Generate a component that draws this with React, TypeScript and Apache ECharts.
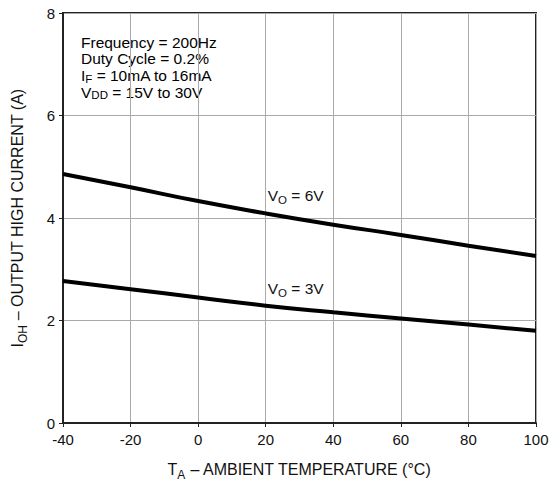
import React, { useEffect, useRef } from "react";
import * as echarts from "echarts";

const temps = [-40, -20, 0, 20, 40, 60, 80, 100];
const ioh6V = [4.86, 4.6, 4.33, 4.09, 3.87, 3.67, 3.46, 3.26];
const ioh3V = [2.77, 2.61, 2.45, 2.29, 2.16, 2.04, 1.92, 1.8];
const xTicks = [-40, -20, 0, 20, 40, 60, 80, 100];
const yTicks = [0, 2, 4, 6, 8];

const FONT = "Liberation Sans, Arial, sans-serif";

const rich = {
  m: { fontSize: 16, fontFamily: FONT, color: "#111", lineHeight: 20 },
  s: { fontSize: 12, fontFamily: FONT, color: "#111", lineHeight: 20, verticalAlign: "bottom", padding: [0, 0, -2, 0] },
};
const richSmall = {
  m: { fontSize: 15.5, fontFamily: FONT, color: "#111", lineHeight: 17 },
  s: { fontSize: 11.5, fontFamily: FONT, color: "#111", lineHeight: 17, verticalAlign: "bottom", padding: [0, 0, -2, 0] },
};
// Parameter block: slightly tighter subscripts so the lines don't collide
const richNote = {
  m: { fontSize: 15.5, fontFamily: FONT, color: "#111", lineHeight: 16.7 },
  s: { fontSize: 11.5, fontFamily: FONT, color: "#111", lineHeight: 14, verticalAlign: "bottom", padding: [0, 0, -1, 0] },
};

export default function App() {
  const ref = useRef<HTMLDivElement>(null);
  useEffect(() => {
    const chart = echarts.init(ref.current!, null, { renderer: "svg" });
    const series = (data: number[], label: string, at: number) => ({
      type: "line",
      smooth: true,
      symbol: "none",
      data: temps.map((t, i) => [t, data[i]]),
      lineStyle: { color: "#000", width: 4 },
      markPoint: {
        symbol: "circle",
        symbolSize: 0,
        data: [{ coord: [temps[at], data[at]] }],
        label: {
          show: true,
          position: "top",
          offset: [30, -4],
          formatter: label,
          rich: richSmall,
        },
      },
    });
    chart.setOption({
      animation: false,
      grid: {
        left: 63, right: 13, top: 13, bottom: 66,
        outerBoundsMode: "none",
        containLabel: false,
        show: true, borderColor: "#222", borderWidth: 2, backgroundColor: "#fff",
      },
      xAxis: {
        type: "value",
        min: -40,
        max: 100,
        interval: 20,
        name: "{m|T}{s|A}{m| – AMBIENT TEMPERATURE (°C)}",
        nameLocation: "middle",
        nameGap: 36,
        nameTextStyle: { rich },
        axisLine: { show: true, onZero: false, lineStyle: { color: "#222", width: 2 } },
        axisTick: { show: true, inside: false, length: 4, lineStyle: { color: "#222" } },
        axisLabel: { color: "#111", fontSize: 15, fontFamily: FONT, margin: 9, formatter: (v: number) => (xTicks.includes(v) ? String(v) : "") },
        splitLine: { show: true, lineStyle: { color: "#aaa", width: 1 } },
      },
      yAxis: {
        type: "value",
        min: 0,
        max: 8,
        interval: 2,
        name: "{m|I}{s|OH}{m| – OUTPUT HIGH CURRENT (A)}",
        nameLocation: "middle",
        nameGap: 36,
        nameRotate: 90,
        nameTextStyle: { rich },
        axisLine: { show: true, onZero: false, lineStyle: { color: "#222", width: 2 } },
        axisTick: { show: true, inside: false, length: 4, lineStyle: { color: "#222" } },
        axisLabel: { color: "#111", fontSize: 15, fontFamily: FONT, margin: 8, formatter: (v: number) => (yTicks.includes(v) ? String(v) : "") },
        splitLine: { show: true, lineStyle: { color: "#aaa", width: 1 } },
      },
      graphic: [
        {
          type: "text",
          left: 81,
          top: 34,
          style: {
            text: [
              "{m|Frequency = 200Hz}",
              "{m|Duty Cycle = 0.2%}",
              "{m|I}{s|F}{m| = 10mA to 16mA}",
              "{m|V}{s|DD}{m| = 15V to 30V}",
            ].join("\n"),
            rich: richNote,
          },
        },
      ],
      series: [series(ioh6V, "{m|V}{s|O}{m| = 6V}", 3), series(ioh3V, "{m|V}{s|O}{m| = 3V}", 3)],
    });
    return () => chart.dispose();
  }, []);
  return <div ref={ref} style={{ position: "absolute", left: 0, top: 0, width: 549, height: 489 }} />;
}
